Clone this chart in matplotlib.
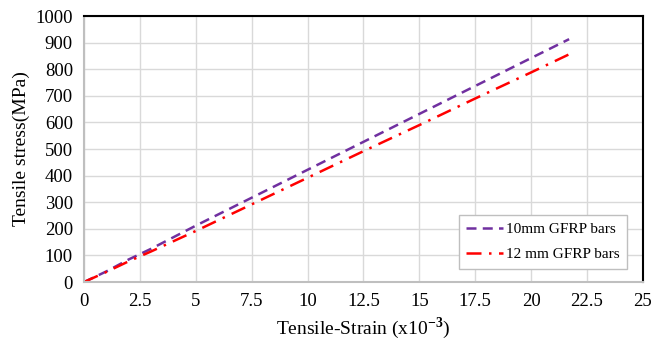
import matplotlib
matplotlib.use('Agg')
import matplotlib.pyplot as plt

plt.rcParams['font.family'] = ['Liberation Serif', 'DejaVu Serif']
plt.rcParams['mathtext.fontset'] = 'custom'
plt.rcParams['mathtext.rm'] = 'Liberation Serif'
plt.rcParams['mathtext.bf'] = 'Liberation Serif:bold'

strain_10 = [0, 1, 2, 3, 5, 7.5, 10, 12.5, 15, 17.5, 20, 21.7]
stress_10 = [0, 40, 85, 125, 212, 317, 422, 527, 632, 737, 842, 913]
strain_12 = [0, 1, 2, 3, 5, 7.5, 10, 12.5, 15, 17.5, 20, 21.7]
stress_12 = [0, 38, 78, 115, 192, 292, 392, 492, 590, 690, 788, 856]

xticks = [0, 2.5, 5, 7.5, 10, 12.5, 15, 17.5, 20, 22.5, 25]
xtick_labels = ['0', '2.5', '5', '7.5', '10', '12.5', '15', '17.5', '20', '22.5', '25']
yticks = list(range(0, 1001, 100))

fig = plt.figure(figsize=(6.52, 3.41), dpi=100)
ax = fig.add_axes([0.129, 0.173, 0.857, 0.780])

ax.plot(strain_10, stress_10, color='#7030a0', linestyle=(0, (4, 2.5)), linewidth=1.8,
        label='10mm GFRP bars')
ax.plot(strain_12, stress_12, color='#ff0000', linestyle=(0, (6, 3, 1, 3)), linewidth=1.8,
        label='12 mm GFRP bars')

ax.set_xlim(0, 25)
ax.set_ylim(0, 1000)
ax.set_xticks(xticks)
ax.set_xticklabels(xtick_labels)
ax.set_yticks(yticks)
ax.tick_params(length=0, labelsize=13.5, pad=8)
ax.grid(True, color='#d9d9d9', linewidth=1)
ax.set_axisbelow(True)

for s in ['left', 'bottom']:
    ax.spines[s].set_color('#bfbfbf')
    ax.spines[s].set_linewidth(1.5)
for s in ['top', 'right']:
    ax.spines[s].set_color('black')
    ax.spines[s].set_linewidth(1.5)

ax.set_xlabel(r'Tensile-Strain (x10$^{\mathbf{-3}}$)', fontsize=14)
ax.set_ylabel('Tensile stress(MPa)', fontsize=14)

leg = ax.legend(loc='lower right', bbox_to_anchor=(0.972, 0.05), fontsize=11,
                frameon=True, fancybox=False, edgecolor='#bfbfbf', framealpha=1,
                handlelength=2.4, handletextpad=0.2, borderpad=0.5, labelspacing=0.75,
                borderaxespad=0)
leg.get_frame().set_linewidth(1)

fig.savefig('out.png', dpi=100)
